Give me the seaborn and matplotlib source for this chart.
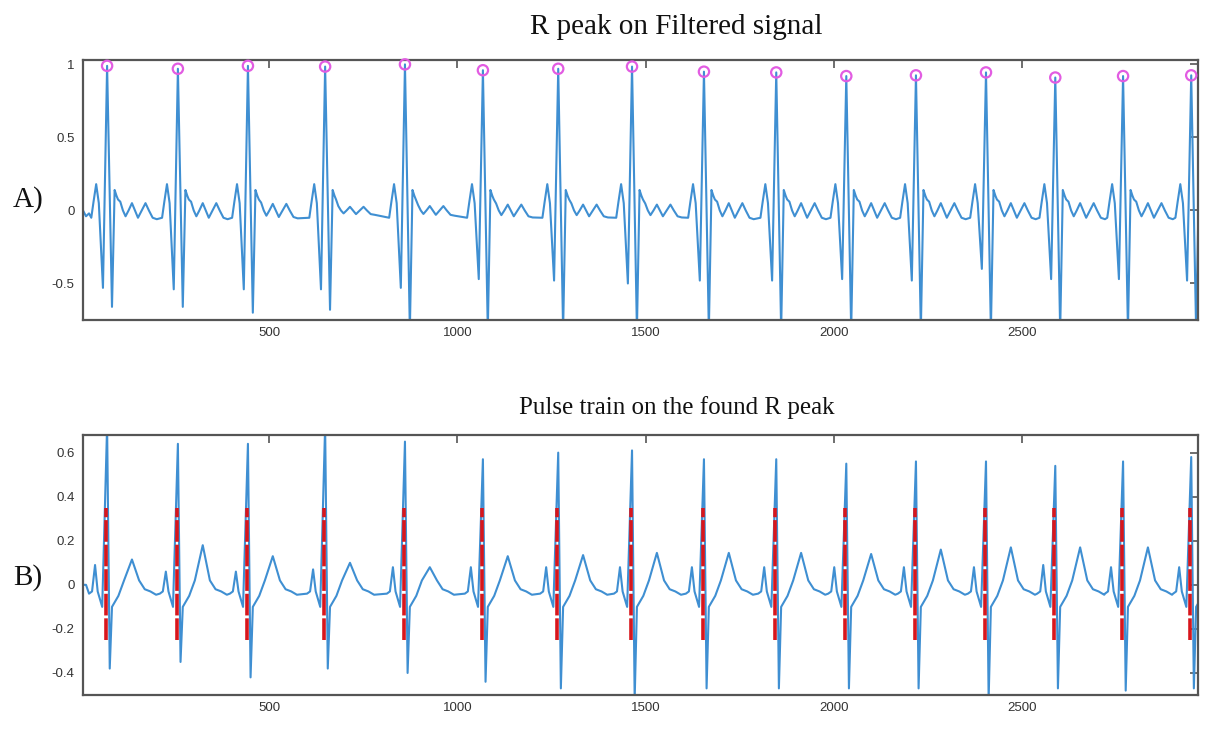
import numpy as np
import pandas as pd
import matplotlib
matplotlib.use("Agg")
import matplotlib.pyplot as plt
import seaborn as sns
from matplotlib.ticker import FixedLocator, FuncFormatter

# ---------------- data ----------------
r_pos = [70, 258, 444, 649, 861, 1068, 1268, 1464, 1655, 1847,
         2033, 2218, 2404, 2588, 2768, 2949]

# filtered signal (panel A): per-beat R height, Q dip, S dip, wiggle scale
filt_r = [0.99, 0.97, 0.99, 0.985, 1.0, 0.96, 0.97, 0.985, 0.95, 0.945,
          0.92, 0.925, 0.945, 0.91, 0.92, 0.925]
filt_q = [-0.53, -0.54, -0.54, -0.54, -0.53, -0.47, -0.48, -0.50, -0.48, -0.48,
          -0.47, -0.48, -0.40, -0.47, -0.47, -0.48]
filt_s = [-0.66, -0.66, -0.70, -0.68, -0.82, -0.82, -0.82, -0.82, -0.82, -0.82,
          -0.82, -0.82, -0.82, -0.82, -0.82, -0.82]
filt_wig = [1.0, 1.0, 0.9, 0.5, 0.6, 0.8, 0.8, 0.8, 1.0, 1.0,
            1.0, 1.0, 1.0, 1.0, 1.0, 1.0]
filt_pre_off = [-42, -36, -29, -22]
filt_pre_val = [-0.05, 0.06, 0.18, 0.05]
filt_q_off, filt_s_off = -11, 13
filt_post_off = [20, 25, 29, 35, 42, 49, 57, 66, 74, 82, 92, 102, 111, 121, 132]
filt_post_val = [0.14, 0.10, 0.075, 0.06, 0.0, -0.04, 0.0, 0.05, 0.0, -0.05,
                 0.0, 0.05, 0.0, -0.05, -0.06]
filt_start = [(6, 0.0), (14, -0.04), (22, -0.02)]

# raw signal (panel B): per-beat R height, S depth, T height, P height
raw_r = [0.72, 0.64, 0.64, 0.72, 0.65, 0.57, 0.60, 0.61, 0.57, 0.57,
         0.55, 0.56, 0.56, 0.54, 0.56, 0.58]
raw_s = [-0.38, -0.35, -0.42, -0.38, -0.40, -0.44, -0.47, -0.52, -0.47, -0.47,
         -0.47, -0.47, -0.52, -0.47, -0.48, -0.47]
raw_t = [0.115, 0.18, 0.13, 0.10, 0.08, 0.13, 0.135, 0.145, 0.145, 0.145,
         0.14, 0.16, 0.17, 0.17, 0.17, 0.17]
raw_p = [0.09, 0.06, 0.06, 0.07, 0.08, 0.08, 0.08, 0.08, 0.08, 0.08,
         0.08, 0.08, 0.08, 0.09, 0.08, 0.08]
raw_pre_off = [-48, -40, -32, -25, -13]
raw_pre_val = [-0.04, -0.03, None, -0.03, -0.10]   # None -> P height
raw_s_off = 7
raw_post_off = [13, 30, 45, 66, 85, 100, 115, 130]
raw_post_val = [-0.10, -0.05, 0.02, None, 0.02, -0.02, -0.03, -0.045]  # None -> T
raw_start = [(6, 0.0), (14, 0.0)]

# pulse train (red dashed)
pulse_pos = [p - 3 for p in r_pos]
pulse_lo, pulse_hi = -0.25, 0.35

# axes / ticks
x_lim = (6, 2967)
x_ticks = [500, 1000, 1500, 2000, 2500]
yA_lim = (-0.75, 1.03)
yA_ticks = [-0.5, 0, 0.5, 1]
yB_lim = (-0.5, 0.68)
yB_ticks = [-0.4, -0.2, 0, 0.2, 0.4, 0.6]

# ---------------- build the series ----------------
def build_filtered():
    pts = list(filt_start)
    for i, r in enumerate(r_pos):
        for o, v in zip(filt_pre_off, filt_pre_val):
            pts.append((r + o, v))
        pts.append((r + filt_q_off, filt_q[i]))
        pts.append((r, filt_r[i]))
        pts.append((r + filt_s_off, filt_s[i]))
        for k, (o, v) in enumerate(zip(filt_post_off, filt_post_val)):
            pts.append((r + o, v * (filt_wig[i] if k >= 3 else 1.0)))
    return pd.DataFrame(pts, columns=["sample", "value"])

def build_raw():
    pts = list(raw_start)
    for i, r in enumerate(r_pos):
        for o, v in zip(raw_pre_off, raw_pre_val):
            pts.append((r + o, raw_p[i] if v is None else v))
        pts.append((r, raw_r[i]))
        pts.append((r + raw_s_off, raw_s[i]))
        for o, v in zip(raw_post_off, raw_post_val):
            pts.append((r + o, raw_t[i] if v is None else v))
    return pd.DataFrame(pts, columns=["sample", "value"])

df_f = build_filtered()
df_r = build_raw()
df_peaks = pd.DataFrame({"sample": r_pos, "value": filt_r})

# ---------------- figure ----------------
sns.set_theme(style="white")
plt.rcParams["axes.unicode_minus"] = False
plt.rcParams["font.family"] = ["DejaVu Sans"]

fig = plt.figure(figsize=(12.05, 7.30), dpi=100)
axA = fig.add_axes([83 / 1205, 1 - 320 / 730, (1198 - 83) / 1205, 260 / 730])
axB = fig.add_axes([83 / 1205, 1 - 695 / 730, (1198 - 83) / 1205, 260 / 730])

line_col = "#3f8fd2"
sns.lineplot(data=df_f, x="sample", y="value", ax=axA, sort=False,
             estimator=None, color=line_col, linewidth=1.5)
sns.scatterplot(data=df_peaks, x="sample", y="value", ax=axA, marker="o",
                s=55, facecolors="none", edgecolor="#e25ce2", linewidth=1.6,
                zorder=5, clip_on=False)

sns.lineplot(data=df_r, x="sample", y="value", ax=axB, sort=False,
             estimator=None, color=line_col, linewidth=1.5)
axB.vlines(pulse_pos, pulse_lo, pulse_hi, colors="#d8161c", linewidth=2.6,
           linestyles=(0, (6, 0.8)), zorder=4)

tick_font = ["Liberation Sans Narrow", "Liberation Sans", "DejaVu Sans"]
fmt = FuncFormatter(lambda v, p: ("%g" % v))
for ax, ylim, yt in [(axA, yA_lim, yA_ticks), (axB, yB_lim, yB_ticks)]:
    ax.set_xlim(*x_lim)
    ax.set_ylim(*ylim)
    ax.xaxis.set_major_locator(FixedLocator(x_ticks))
    ax.yaxis.set_major_locator(FixedLocator(yt))
    ax.xaxis.set_major_formatter(fmt)
    ax.yaxis.set_major_formatter(fmt)
    ax.set_xlabel("")
    ax.set_ylabel("")
    ax.tick_params(axis="both", direction="in", length=6, width=1.2,
                   color="#555555", top=True, right=True, labelsize=9.5,
                   labelcolor="#333333")
    ax.tick_params(axis="x", pad=5)
    ax.tick_params(axis="y", pad=6)
    for lab in ax.get_xticklabels() + ax.get_yticklabels():
        lab.set_family(tick_font)
    for sp in ax.spines.values():
        sp.set_color("#555555")
        sp.set_linewidth(1.6)
        sp.set_visible(True)
    ax.grid(False)

serif = ["Liberation Serif", "DejaVu Serif"]
fig.text(676 / 1205, 1 - 27 / 730, "R peak on Filtered signal", ha="center",
         va="center", fontsize=21, family=serif, color="#111111")
fig.text(677 / 1205, 1 - 408 / 730, "Pulse train on the found R peak",
         ha="center", va="center", fontsize=18, family=serif, color="#111111")
fig.text(28 / 1205, 1 - 200 / 730, "A)", ha="center", va="center",
         fontsize=21, family=serif, color="#111111")
fig.text(28 / 1205, 1 - 578 / 730, "B)", ha="center", va="center",
         fontsize=21, family=serif, color="#111111")

fig.savefig("out.png", dpi=100, facecolor="white")
